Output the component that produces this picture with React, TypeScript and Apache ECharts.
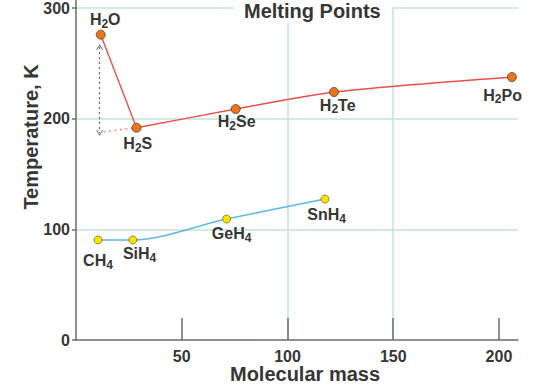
import React, { useEffect, useRef } from 'react';
import * as echarts from 'echarts';

const FONT = '"Liberation Sans", Arial, Helvetica, sans-serif';

// ---- data ----
const group6Names = ['H2O', 'H2S', 'H2Se', 'H2Te', 'H2Po'];
const group6Mass = [11.7, 28.6, 75.5, 122.0, 206.1];
const group6Temp = [275.9, 191.8, 208.7, 224.1, 237.6];

const group4Names = ['CH4', 'SiH4', 'GeH4', 'SnH4'];
const group4Mass = [10.4, 26.9, 71.2, 117.7];
const group4Temp = [90.4, 90.4, 109.3, 127.4];

const extrapMass = [13.0, 28.6];
const extrapTemp = [188.2, 191.8];

const arrowMass = [11.2, 11.2];
const arrowTemp = [264.7, 187.0];

const xTickValues = [50, 100, 150, 200];
const yTickValues = [0, 100, 200, 300];

// label placement (pixels, relative to each point)
const group6LabelOffsets = [[4.5, -14.7], [1.3, 15.8], [1, 12.5], [3.7, 13.5], [-9.3, 18]];
const group4LabelOffsets = [[0, 21], [6.7, 14], [5, 14.7], [1.7, 15.7]];
const labelsWithBackground = ['H2Po'];

const RED = '#e8504a';
const BLUE = '#5cb8e6';
const GRID = '#c4e5d5';
const AXIS = '#6b6b6b';
const TEXT = '#363636';
const CHEVRON = 'path://M0,8 L5,0 L10,8 L8.6,8 L5,2.2 L1.4,8 Z';

const formula = (s: string) => s.replace(/(\d+)/g, '{s|$1}');

const labelBase = {
  show: true,
  position: 'inside',
  fontFamily: FONT,
  fontSize: 16,
  fontWeight: 'bold',
  color: TEXT,
  lineHeight: 20,
  formatter: (p: any) => formula(p.name),
  rich: {
    s: { fontFamily: FONT, fontSize: 12, fontWeight: 'bold', color: TEXT, verticalAlign: 'bottom' },
  },
};

export default function App() {
  const ref = useRef<HTMLDivElement>(null);

  useEffect(() => {
    if (!ref.current) return;
    const chart = echarts.init(ref.current, undefined, { renderer: 'svg' });

    const g6Points = group6Names.map((n, i) => ({
      name: n,
      value: [group6Mass[i], group6Temp[i]],
      label: {
        offset: group6LabelOffsets[i],
        backgroundColor: labelsWithBackground.includes(n) ? '#ffffff' : 'transparent',
        padding: labelsWithBackground.includes(n) ? [2, 2, 2, 2] : 0,
      },
    }));
    const g4Points = group4Names.map((n, i) => ({
      name: n,
      value: [group4Mass[i], group4Temp[i]],
      label: { offset: group4LabelOffsets[i] },
    }));

    const option: any = {
      animation: false,
      backgroundColor: '#ffffff',
      title: {
        text: 'Melting Points',
        left: 233,
        top: 0,
        padding: [1, 11, 2, 11],
        backgroundColor: '#ffffff',
        textStyle: { fontFamily: FONT, fontSize: 20, fontWeight: 'bold', color: TEXT, lineHeight: 20 },
        z: 10,
      },
      graphic: [
        {
          type: 'text',
          x: 30.5,
          y: 137,
          rotation: Math.PI / 2,
          style: {
            text: 'Temperature, K',
            fontFamily: FONT,
            fontSize: 20,
            fontWeight: 'bold',
            fill: TEXT,
            textAlign: 'center',
            textVerticalAlign: 'middle',
          },
        },
      ],
      grid: [
        { left: 76, right: 17, top: 8, bottom: 48, containLabel: false, outerBoundsMode: 'none' },
        { left: 76, top: 0, width: 10, height: 8, containLabel: false, outerBoundsMode: 'none' },
      ],
      xAxis: [
        {
          type: 'value',
          min: 0,
          max: 209,
          interval: 50,
          name: 'Molecular mass',
          nameLocation: 'middle',
          nameGap: 24,
          nameMoveOverlap: false,
          nameTextStyle: { fontFamily: FONT, fontSize: 20, fontWeight: 'bold', color: TEXT, lineHeight: 20, padding: [0, 0, 0, 16] },
          axisLine: { show: true, onZero: false, lineStyle: { color: AXIS, width: 1.5 } },
          axisTick: { show: true, inside: true, length: 22, customValues: xTickValues, lineStyle: { color: AXIS, width: 1.5 } },
          axisLabel: {
            customValues: xTickValues,
            margin: 8,
            fontFamily: FONT,
            fontSize: 16,
            fontWeight: 'bold',
            color: TEXT,
          },
          splitLine: { show: true, showMinLine: false, showMaxLine: false, lineStyle: { color: GRID, width: 1.5 } },
        },
        { type: 'value', gridIndex: 1, show: false },
      ],
      yAxis: [
        {
          type: 'value',
          min: 0,
          max: 300,
          interval: 100,
          axisLine: { show: true, onZero: false, lineStyle: { color: AXIS, width: 1.5 } },
          axisTick: { show: true, length: 4, lineStyle: { color: AXIS, width: 1.5 } },
          axisLabel: {
            customValues: yTickValues,
            margin: 6,
            fontFamily: FONT,
            fontSize: 16,
            fontWeight: 'bold',
            color: TEXT,
          },
          splitLine: { show: true, showMinLine: false, lineStyle: { color: GRID, width: 1.5 } },
        },
        {
          type: 'value',
          gridIndex: 1,
          min: 0,
          max: 1,
          axisLine: { show: true, onZero: false, lineStyle: { color: AXIS, width: 1.5 } },
          axisTick: { show: false },
          axisLabel: { show: false },
          splitLine: { show: false },
        },
      ],
      series: [
        {
          type: 'line',
          data: [0, 1].map((i) => [group6Mass[i], group6Temp[i]]),
          symbol: 'none',
          lineStyle: { color: RED, width: 1.4 },
          z: 2,
          markLine: {
            silent: true,
            symbol: [CHEVRON, CHEVRON],
            symbolSize: [7, 6],
            label: { show: false },
            lineStyle: { color: '#6a6a6a', type: [2, 3], width: 1.2 },
            emphasis: { disabled: true },
            data: [[{ coord: [arrowMass[0], arrowTemp[0]] }, { coord: [arrowMass[1], arrowTemp[1]] }]],
          },
        },
        {
          type: 'line',
          data: group6Mass.slice(1).map((m, i) => [m, group6Temp[i + 1]]),
          smooth: 0.25,
          symbol: 'none',
          lineStyle: { color: RED, width: 1.4 },
          z: 2,
        },
        {
          type: 'line',
          data: extrapMass.map((m, i) => [m, extrapTemp[i]]),
          symbol: 'none',
          lineStyle: { color: '#f09a96', width: 1.8, type: [2, 3.5] },
          z: 2,
        },
        {
          type: 'line',
          data: group4Mass.map((m, i) => [m, group4Temp[i]]),
          smooth: 0.3,
          symbol: 'none',
          lineStyle: { color: BLUE, width: 1.6 },
          z: 2,
        },
        {
          type: 'scatter',
          data: g6Points,
          symbol: 'circle',
          symbolSize: 9,
          itemStyle: { color: '#e9751c', borderColor: '#5e3f22', borderWidth: 0.8, opacity: 1 },
          label: labelBase,
          z: 5,
        },
        {
          type: 'scatter',
          data: g4Points,
          symbol: 'circle',
          symbolSize: 8,
          itemStyle: { color: '#f8e400', borderColor: '#857518', borderWidth: 0.8, opacity: 1 },
          label: labelBase,
          z: 5,
        },
      ],
    };

    chart.setOption(option);
    return () => chart.dispose();
  }, []);

  return (
    <div
      ref={ref}
      style={{ position: 'fixed', left: 0, top: 0, width: 535, height: 388 }}
    />
  );
}
